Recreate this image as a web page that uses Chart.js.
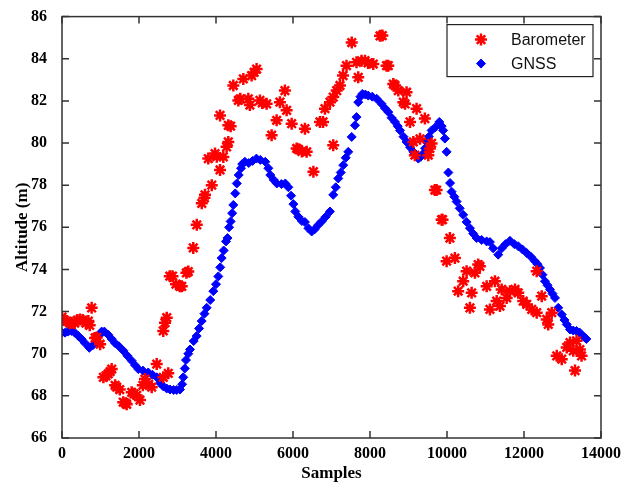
<!DOCTYPE html>
<html>
<head>
<meta charset="utf-8">
<script src="https://cdn.jsdelivr.net/npm/chart.js@4.4.0/dist/chart.umd.min.js"></script>
<style>
  html, body { margin: 0; padding: 0; background: #fff; }
  #wrap { width: 622px; height: 484px; }
</style>
</head>
<body>
<div id="wrap"><canvas id="chart" width="622" height="484"></canvas></div>
<script>
// axis ticks
const xTicks = [0, 2000, 4000, 6000, 8000, 10000, 12000, 14000];
const yTicks = [66, 68, 70, 72, 74, 76, 78, 80, 82, 84, 86];

// GNSS altitude
const gnssX = [0, 80, 160, 250, 330, 420, 510, 600, 710, 800, 900, 960, 1030, 1100, 1200, 1290, 1380, 1480, 1595, 1700,
  1810, 1900, 1982, 2100, 2240, 2350, 2460, 2550, 2632, 2720, 2805, 2900, 2980, 3065, 3120, 3150, 3190, 3220, 3280, 3325,
  3420, 3498, 3560, 3628, 3700, 3758, 3850, 3930, 4000, 4060, 4110, 4147, 4200, 4260, 4300, 4340, 4380, 4420, 4450, 4500,
  4540, 4590, 4650, 4680, 4750, 4850, 4950, 5050, 5150, 5280, 5360, 5410, 5500, 5580, 5700, 5800, 5880, 5950, 6010, 6060,
  6140, 6230, 6310, 6400, 6485, 6560, 6650, 6745, 6850, 6960, 7045, 7110, 7175, 7240, 7305, 7370, 7435, 7525, 7610, 7650,
  7695, 7750, 7800, 7880, 7955, 8060, 8175, 8300, 8390, 8475, 8560, 8650, 8720, 8780, 8870, 8950, 9040, 9125, 9200, 9255,
  9320, 9385, 9430, 9470, 9530, 9600, 9700, 9800, 9860, 9900, 9945, 9990, 10035, 10080, 10120, 10190, 10250, 10330, 10420, 10510,
  10595, 10680, 10770, 10900, 11030, 11115, 11200, 11330, 11420, 11520, 11635, 11750, 11850, 11960, 12070, 12180, 12285, 12350, 12415, 12480,
  12545, 12610, 12675, 12740, 12805, 12890, 12980, 13050, 13110, 13195, 13280, 13365, 13450, 13520, 13580, 13620];
const gnssY = [71.0, 71.0, 71.05, 71.08, 71.0, 70.85, 70.69, 70.5, 70.28, 70.4, 70.55, 70.85, 71.05, 71.05, 70.9, 70.7, 70.5, 70.35, 70.14, 69.9,
  69.67, 69.45, 69.27, 69.2, 69.11, 69.0, 68.88, 68.6, 68.45, 68.35, 68.3, 68.28, 68.28, 68.3, 68.55, 68.88, 69.3, 69.7, 70.0, 70.2,
  70.6, 70.84, 71.2, 71.55, 71.9, 72.18, 72.55, 72.97, 73.3, 73.67, 74.1, 74.54, 74.9, 75.33, 75.49, 76.0, 76.28, 76.67, 77.06, 77.61,
  78.08, 78.48, 78.8, 79.0, 79.11, 79.05, 79.15, 79.26, 79.2, 79.11, 78.8, 78.48, 78.25, 78.08, 78.05, 78.08, 77.9, 77.5, 77.1, 76.75,
  76.5, 76.3, 76.25, 75.95, 75.8, 75.9, 76.1, 76.28, 76.5, 76.75, 77.54, 77.9, 78.32, 78.6, 78.95, 79.3, 79.58, 80.29, 80.84, 81.23,
  81.94, 82.2, 82.33, 82.3, 82.25, 82.2, 82.1, 81.86, 81.65, 81.47, 81.2, 81.0, 80.8, 80.6, 80.3, 80.05, 79.8, 79.58, 79.4, 79.26,
  79.35, 79.5, 79.75, 80.05, 80.3, 80.6, 80.75, 81.0, 80.8, 80.6, 80.21, 79.58, 78.6, 78.1, 77.69, 77.45, 77.22, 76.9, 76.59, 76.25,
  75.96, 75.7, 75.49, 75.4, 75.33, 75.3, 75.0, 74.7, 75.0, 75.2, 75.36, 75.2, 75.1, 74.95, 74.78, 74.6, 74.39, 74.25, 74.07, 73.75,
  73.44, 73.25, 73.05, 72.85, 72.65, 72.18, 71.86, 71.6, 71.39, 71.15, 71.1, 71.08, 71.0, 70.85, 70.77, 70.7];

// Barometer altitude
const baroX = [0, 60, 120, 200, 250, 330, 400, 470, 540, 620, 685, 720, 770, 860, 900, 990, 1075, 1140, 1200, 1250,
  1290, 1380, 1420, 1500, 1590, 1650, 1680, 1810, 1870, 1940, 2025, 2100, 2155, 2250, 2330, 2460, 2630, 2760, 2630, 2675,
  2720, 2800, 2870, 2960, 3065, 3110, 3230, 3280, 3410, 3500, 3630, 3700, 3715, 3800, 3890, 3975, 4020, 4105, 4105, 4190,
  4275, 4320, 4320, 4380, 4450, 4580, 4630, 4710, 4840, 4880, 4925, 4990, 5055, 5140, 5200, 5315, 5445, 5575, 5660, 5790,
  5835, 5965, 6095, 6140, 6230, 6310, 6355, 6530, 6700, 6780, 6830, 6960, 7045, 7045, 7135, 7220, 7300, 7390, 7525, 7650,
  7695, 7780, 7870, 7950, 8085, 8260, 8320, 8430, 8475, 8605, 8650, 8735, 8865, 8950, 8910, 9040, 9125, 9165, 9210, 9300,
  9425, 9515, 9555, 9600, 9685, 9730, 9860, 9885, 9990, 10075, 10205, 10290, 10420, 10510, 10595, 10640, 10725, 10810, 10855, 11030,
  11115, 11245, 11290, 11375, 11420, 11550, 11635, 11765, 11850, 11980, 12070, 12200, 12330, 12330, 12460, 12590, 12630, 12720, 12850, 12980,
  13110, 13195, 13280, 13325, 13365, 13450, 13495];
const baroY = [71.74, 71.6, 71.55, 71.45, 71.47, 71.45, 71.6, 71.63, 71.6, 71.45, 71.55, 71.35, 72.18, 70.75, 70.77, 70.45, 68.88, 68.95, 69.04, 69.15,
  69.27, 68.5, 68.41, 68.3, 67.7, 67.65, 67.6, 68.17, 68.1, 68.02, 67.8, 68.5, 68.8, 68.55, 68.41, 69.51, 68.88, 69.07, 71.08, 71.47,
  71.71, 73.68, 73.68, 73.3, 73.2, 73.2, 73.84, 73.9, 75.02, 76.12, 77.14, 77.4, 77.54, 79.26, 78.0, 79.5, 79.35, 78.72, 81.31, 79.34,
  79.82, 80.05, 80.84, 80.8, 82.73, 82.02, 82.1, 83.04, 82.1, 81.8, 83.2, 83.35, 83.51, 82.02, 81.9, 81.86, 80.37, 81.08, 81.94, 82.49,
  81.55, 80.92, 79.74, 79.7, 79.6, 80.68, 79.58, 78.64, 81.0, 81.0, 81.63, 81.94, 82.18, 79.9, 82.49, 82.73, 83.2, 83.67, 84.77, 83.83,
  83.12, 83.9, 83.91, 83.8, 83.75, 85.09, 85.1, 83.67, 83.67, 82.8, 82.73, 82.49, 81.94, 82.41, 81.86, 81.0, 80.05, 79.42, 81.63, 80.2,
  81.16, 79.42, 79.74, 79.98, 77.77, 77.77, 76.36, 76.36, 74.39, 75.49, 74.54, 72.97, 73.44, 73.92, 72.18, 72.89, 73.84, 74.23, 74.15, 73.2,
  72.1, 73.44, 72.5, 72.26, 73.05, 72.65, 72.97, 73.05, 72.89, 72.5, 72.34, 72.1, 71.95, 73.92, 72.73, 71.63, 71.39, 71.95, 69.9, 69.74,
  70.3, 70.53, 70.14, 69.2, 70.61, 70.2, 69.9];

function toPoints(xs, ys) {
    return xs.map((x, i) => ({ x: x, y: ys[i] }));
}

const serif = 'Liberation Serif, Times New Roman, serif';
const sans = 'Liberation Sans, Arial, sans-serif';

// frame + inward tick marks on all four sides
const frameTicks = {
    id: 'frameTicks',
    afterDraw(chart) {
        const ctx = chart.ctx;
        const a = chart.chartArea;
        const sx = chart.scales.x, sy = chart.scales.y;
        ctx.save();
        ctx.strokeStyle = '#333';
        ctx.lineWidth = 1.5;
        ctx.strokeRect(a.left, a.top, a.right - a.left, a.bottom - a.top);
        ctx.beginPath();
        xTicks.forEach(v => {
            const px = sx.getPixelForValue(v);
            ctx.moveTo(px, a.bottom); ctx.lineTo(px, a.bottom - 7);
            ctx.moveTo(px, a.top); ctx.lineTo(px, a.top + 7);
        });
        yTicks.forEach(v => {
            const py = sy.getPixelForValue(v);
            ctx.moveTo(a.left, py); ctx.lineTo(a.left + 7, py);
            ctx.moveTo(a.right, py); ctx.lineTo(a.right - 7, py);
        });
        ctx.stroke();
        ctx.restore();
    }
};

// boxed legend inside the top right corner
const boxLegend = {
    id: 'boxLegend',
    afterDraw(chart) {
        const ctx = chart.ctx;
        const a = chart.chartArea;
        const bx = a.right - 154, by = a.top + 8, bw = 146, bh = 52;
        ctx.save();
        ctx.fillStyle = '#fff';
        ctx.fillRect(bx, by, bw, bh);
        ctx.strokeStyle = '#222';
        ctx.lineWidth = 1.2;
        ctx.strokeRect(bx, by, bw, bh);
        chart.data.datasets.forEach((ds, i) => {
            const cy = by + 15 + i * 24;
            ctx.fillStyle = ds.backgroundColor;
            ctx.strokeStyle = ds.borderColor;
            ctx.lineWidth = ds.borderWidth;
            Chart.helpers.drawPoint(ctx, {
                pointStyle: ds.pointStyle,
                radius: ds.pointRadius,
                borderWidth: ds.borderWidth
            }, bx + 34, cy);
            ctx.fillStyle = '#111';
            ctx.font = '16px ' + sans;
            ctx.textBaseline = 'middle';
            ctx.textAlign = 'left';
            ctx.fillText(ds.label, bx + 64, cy + 1);
        });
        ctx.restore();
    }
};

const ctx = document.getElementById('chart').getContext('2d');
new Chart(ctx, {
    type: 'scatter',
    data: {
        datasets: [
            {
                label: 'Barometer',
                data: toPoints(baroX, baroY),
                pointStyle: 'star',
                pointRadius: 6,
                borderWidth: 2.5,
                borderColor: '#ff0000',
                backgroundColor: '#ff0000'
            },
            {
                label: 'GNSS',
                data: toPoints(gnssX, gnssY),
                pointStyle: 'rectRot',
                pointRadius: 4.5,
                borderWidth: 1,
                borderColor: '#0000ff',
                backgroundColor: '#0000ff'
            }
        ]
    },
    options: {
        responsive: false,
        animation: false,
        layout: { padding: { top: 14, right: 21, left: 0, bottom: 0 } },
        plugins: {
            legend: { display: false },
            tooltip: { enabled: false }
        },
        scales: {
            x: {
                type: 'linear',
                min: 0,
                max: 14000,
                afterBuildTicks: s => { s.ticks = xTicks.map(v => ({ value: v })); },
                afterFit: s => { s.height = 46; },
                grid: { display: false },
                border: { display: false },
                ticks: {
                    color: '#000',
                    padding: -2,
                    maxRotation: 0,
                    callback: v => String(v),
                    font: { family: serif, size: 16, weight: 'bold' }
                },
                title: {
                    display: true,
                    text: 'Samples',
                    color: '#000',
                    padding: { top: 0, bottom: 0 },
                    font: { family: serif, size: 17, weight: 'bold' }
                }
            },
            y: {
                min: 66,
                max: 86,
                afterBuildTicks: s => { s.ticks = yTicks.map(v => ({ value: v })); },
                afterFit: s => { s.width = 62; },
                grid: { display: false },
                border: { display: false },
                ticks: {
                    color: '#000',
                    padding: 7,
                    font: { family: serif, size: 16, weight: 'bold' }
                },
                title: {
                    display: true,
                    text: 'Altitude (m)',
                    color: '#000',
                    padding: { top: 12, bottom: 0 },
                    font: { family: serif, size: 17, weight: 'bold' }
                }
            }
        }
    },
    plugins: [frameTicks, boxLegend]
});
</script>
</body>
</html>
